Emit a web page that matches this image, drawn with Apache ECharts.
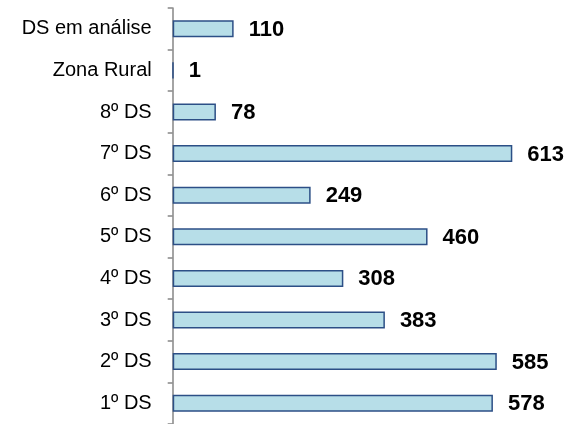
<!DOCTYPE html>
<html>
<head>
<meta charset="utf-8">
<script src="https://cdn.jsdelivr.net/npm/echarts@6/dist/echarts.min.js"></script>
<style>html,body{margin:0;padding:0;background:#fff}#c{width:573px;height:424px}</style>
</head>
<body>
<div id="c"></div>
<script>
const categories = ["DS em análise", "Zona Rural", "8º DS", "7º DS", "6º DS", "5º DS", "4º DS", "3º DS", "2º DS", "1º DS"];
const values = [110, 1, 78, 613, 249, 460, 308, 383, 585, 578];

const chart = echarts.init(document.getElementById('c'), null, {renderer: 'canvas'});
chart.setOption({
  animation: false,
  grid: {left: 172.7, top: 8, width: 387.8, height: 418, containLabel: false},
  xAxis: {
    type: 'value', min: 0, max: 700, show: false
  },
  yAxis: {
    type: 'category', data: categories, inverse: true,
    axisLine: {show: true, lineStyle: {color: '#868686', width: 1.5}},
    axisTick: {show: true, length: 5, lineStyle: {color: '#868686', width: 1.5}},
    axisLabel: {color: '#000', fontFamily: 'Liberation Sans, Arial', fontSize: 20, margin: 21}
  },
  series: [{
    type: 'bar', data: values, barWidth: 17,
    itemStyle: {color: '#B7DEE8', borderColor: '#2C4F86', borderWidth: 1.5},
    label: {show: true, position: 'right', distance: 15, color: '#000', fontWeight: 'bold',
      fontFamily: 'Liberation Sans, Arial', fontSize: 22, offset: [0, 1]}
  }]
});
</script>
</body>
</html>
